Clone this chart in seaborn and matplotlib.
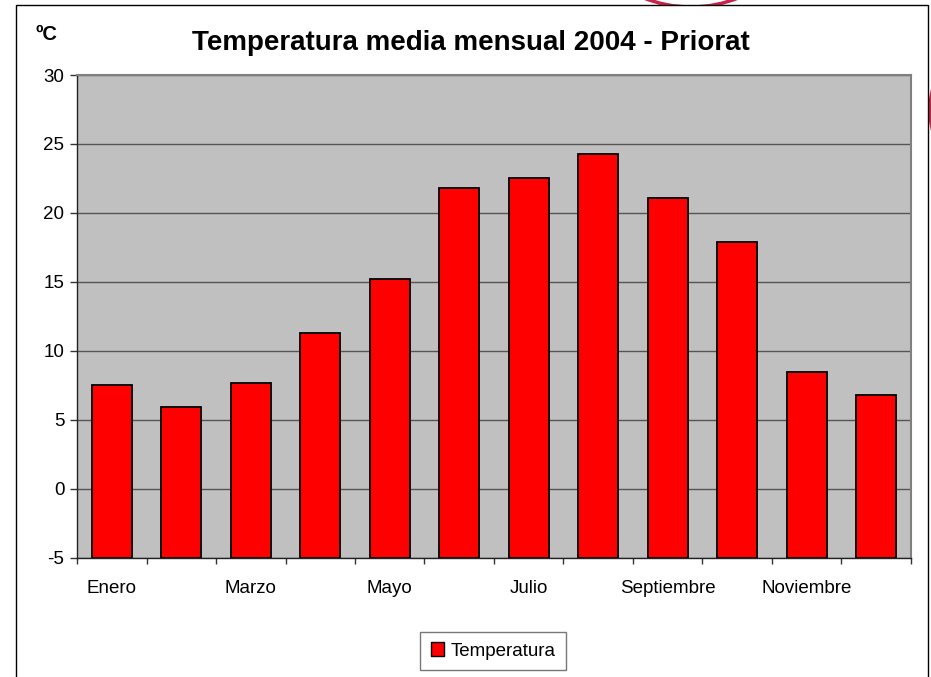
import matplotlib
matplotlib.use("Agg")
import matplotlib.pyplot as plt
from matplotlib.patches import Rectangle, Ellipse
from matplotlib.ticker import FixedLocator
import seaborn as sns
import pandas as pd

meses = ["Enero", "Febrero", "Marzo", "Abril", "Mayo", "Junio", "Julio",
         "Agosto", "Septiembre", "Octubre", "Noviembre", "Diciembre"]
temperatura = [7.5, 5.9, 7.7, 11.3, 15.2, 21.8, 22.5, 24.3, 21.1, 17.9, 8.5, 6.8]
etiquetas_x = ["Enero", "", "Marzo", "", "Mayo", "", "Julio", "",
               "Septiembre", "", "Noviembre", ""]
ticks_y = [-5, 0, 5, 10, 15, 20, 25, 30]

df = pd.DataFrame({"Mes": meses, "Temperatura": temperatura})

sns.set_theme(style="white")
plt.rcParams["font.family"] = ["Liberation Sans", "DejaVu Sans"]
plt.rcParams["text.color"] = "black"
plt.rcParams["axes.unicode_minus"] = False

W, H = 931, 677
fig = plt.figure(figsize=(W / 100, H / 100), dpi=100)
fig.patch.set_facecolor("white")


def fx(px):
    return px / W


def fy(py):
    return 1 - py / H


def ring(cx, cy, r):
    return Ellipse((fx(cx), fy(cy)), 2 * r / W, 2 * r / H, transform=fig.transFigure,
                   fill=False, ec="#c8234b", lw=2.5, zorder=-3)


# decorative ring fragments outside the chart frame
fig.patches.append(ring(691, -121, 128))
fig.patches.append(ring(1010, 110, 80))
# chart frame
fig.patches.append(Rectangle((fx(16), fy(720)), fx(928) - fx(16), fy(5) - fy(720),
                             transform=fig.transFigure, fc="white", ec="black",
                             lw=1.0, zorder=-2))

ax = fig.add_axes([fx(77), fy(557.7), fx(911) - fx(77), fy(75) - fy(557.7)])
sns.barplot(data=df, x="Mes", y="Temperatura", color="#ff0000", saturation=1,
            width=0.58, edgecolor="black", linewidth=1.3, ax=ax,
            label="Temperatura", zorder=3)

# bars start at the bottom of the value axis, like the original chart
ymin = ticks_y[0]
for p in ax.patches:
    h = p.get_height()
    p.set_y(ymin)
    p.set_height(h - ymin)

ax.set_facecolor("#c0c0c0")
ax.set_ylim(ymin, ticks_y[-1])
ax.set_xlim(-0.5, len(meses) - 0.5)
ax.set_yticks(ticks_y)
ax.yaxis.grid(True, color="#555555", lw=1.0, zorder=1)
ax.set_axisbelow(True)

ax.set_xticks(range(len(meses)))
ax.set_xticklabels(etiquetas_x)
ax.xaxis.set_minor_locator(FixedLocator([i - 0.5 for i in range(len(meses) + 1)]))
ax.tick_params(axis="x", which="major", length=0, pad=16, labelsize=13.5,
               labelcolor="black")
ax.tick_params(axis="x", which="minor", bottom=True, length=4, width=1,
               color="#333333", direction="out")
ax.tick_params(axis="y", left=True, length=5, width=1, color="#333333",
               direction="out", pad=4, labelsize=13.5, labelcolor="black")

for side in ["left", "bottom"]:
    ax.spines[side].set_color("#222222")
    ax.spines[side].set_linewidth(1.0)
for side in ["top", "right"]:
    ax.spines[side].set_color("#808080")
    ax.spines[side].set_linewidth(1.5)

ax.set_xlabel("")
ax.set_ylabel("")

fig.text(fx(471), fy(43), "Temperatura media mensual 2004 - Priorat",
         ha="center", va="center", fontsize=20, fontweight="bold")
fig.text(fx(36), fy(34), "ºC", ha="left", va="center", fontsize=14.5,
         fontweight="bold")

leg = ax.legend(loc="center", bbox_to_anchor=(fx(493), fy(651), 0, 0),
                bbox_transform=fig.transFigure, fontsize=13.5, frameon=True,
                fancybox=False, edgecolor="#555555", handlelength=0.7,
                handleheight=0.7, handletextpad=0.35, borderpad=0.55,
                borderaxespad=0)
leg.get_frame().set_linewidth(1.0)
for h in leg.legend_handles:
    h.set_linewidth(1.0)

fig.savefig("out.png", dpi=100)
